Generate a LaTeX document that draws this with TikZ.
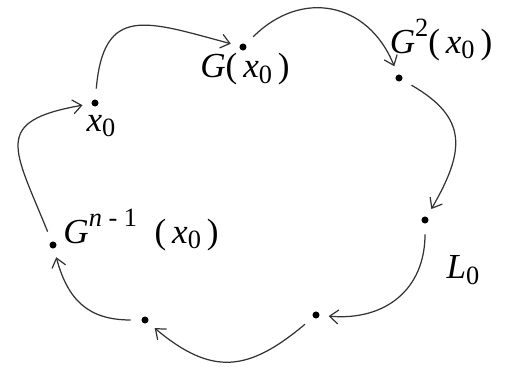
\documentclass[tikz,border=0pt]{standalone}
\usepackage{fontspec}
\setmainfont{Liberation Serif}
\usetikzlibrary{positioning,arrows.meta}
\newcommand{\xz}{\textit{x}\raisebox{-0.35ex}{\fontsize{15}{15}\selectfont 0}}

\begin{document}
\begin{tikzpicture}[x=0.02cm, y=-0.02cm, >={Straight Barb[length=5pt,width=8pt]},
    font=\fontsize{20}{22}\selectfont,
    pt/.style={circle, fill=black, inner sep=0pt, minimum size=4pt},
    orbit/.style={->, gray!40!black, line width=0.7pt, shorten <=6pt, shorten >=5pt}]

    \useasboundingbox (0,0) rectangle (509,367);

    % orbit points
    \node[pt] (x0) at (95,103) {};
    \node[pt] (g1) at (243,47) {};
    \node[pt] (g2) at (399,78) {};
    \node[pt] (p4) at (425,220) {};
    \node[pt] (p5) at (316,315) {};
    \node[pt] (p6) at (145,320) {};
    \node[pt] (gn) at (53,245) {};

    % labels
    \node (lx0) at (101,126) {\xz};
    \node (lg1) at (245,69) {\textit{G}(\,\xz\,)};
    \node (lg2) at (441,40) {\textit{G}\raisebox{1.0ex}{\fontsize{15}{15}\selectfont 2}(\,\xz\,)};
    \node (lgn) at (141,230) {\textit{G}\raisebox{1.0ex}{\fontsize{15}{15}\selectfont\textit{n} - 1}\ \ (\,\xz\,)};
    \node (ll0) at (463,270) {\textit{L}\raisebox{-0.35ex}{\fontsize{15}{15}\selectfont 0}};

    % arcs of the orbit
    \draw[orbit] (x0) to[out=85, in=165, looseness=1.6] (g1);
    \draw[orbit] (g1) to[out=45, in=112, looseness=1.3] (g2);
    \draw[orbit] (g2) to[out=-30, in=60, looseness=1.4] (p4);
    \draw[orbit] (p4) to[out=-90, in=-5, looseness=1.2] (p5);
    \draw[orbit] (p5) to[out=-140, in=-40, looseness=1.3] (p6);
    \draw[orbit] (p6) to[out=180, in=-75, looseness=1.2] (gn);
    \draw[orbit] (gn) to[out=112, in=190, looseness=1.8] (x0);

\end{tikzpicture}
\end{document}
